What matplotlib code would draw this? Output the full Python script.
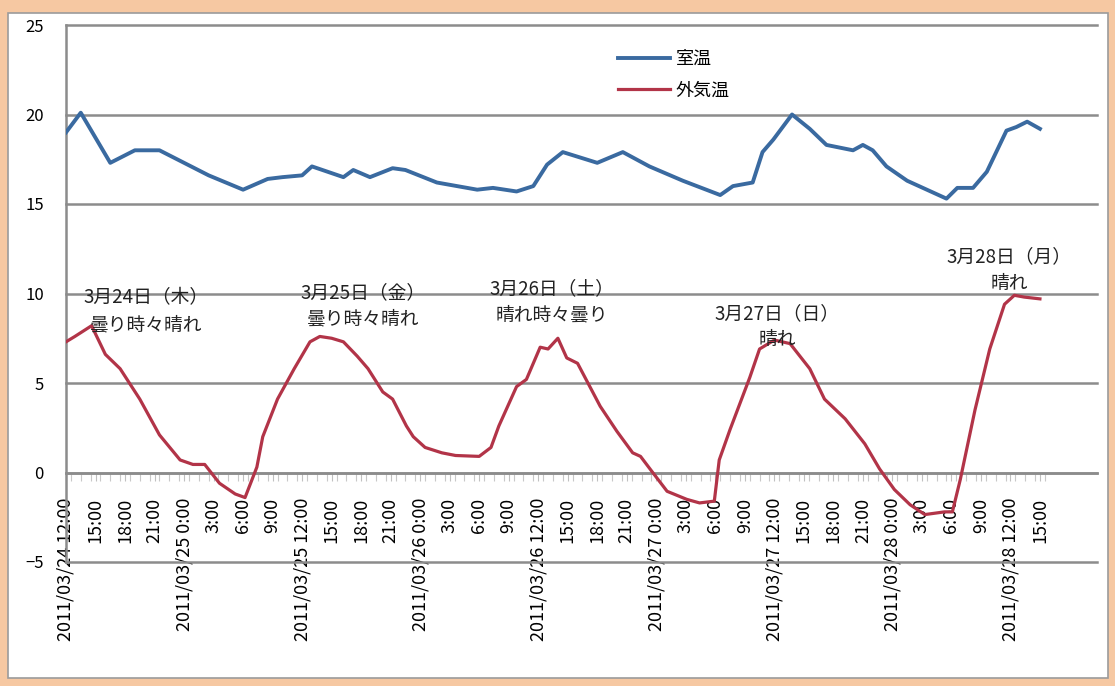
import datetime as dt
import matplotlib
matplotlib.use("Agg")
import matplotlib.pyplot as plt
from matplotlib.patches import Rectangle

plt.rcParams['font.family'] = ['Noto Sans CJK JP', 'DejaVu Sans']

# hours since 2011/03/24 12:00
room_h = [0, 1.5, 4.5, 7, 9.5, 12, 14.5, 18, 20.5, 22, 24, 25, 28.2, 29.2, 30.9, 33.2,
          34.5, 37.7, 41.8, 43.4, 45.8, 47.5, 48.9, 50.5, 54, 56.6, 59.3, 62.7, 66.5,
          67.8, 69.8, 70.8, 71.9, 73.8, 75.6, 77.3, 80, 81, 82, 83.4, 85.5, 87.5, 89.5,
          90.6, 92.2, 93.6, 95.6, 96.6, 97.7, 99]
room_t = [19.0, 20.1, 17.3, 18.0, 18.0, 17.3, 16.6, 15.8, 16.4, 16.5, 16.6, 17.1, 16.5,
          16.9, 16.5, 17.0, 16.9, 16.2, 15.8, 15.9, 15.7, 16.0, 17.2, 17.9, 17.3, 17.9,
          17.1, 16.3, 15.5, 16.0, 16.2, 17.9, 18.6, 20.0, 19.2, 18.3, 18.0, 18.3, 18.0,
          17.1, 16.3, 15.8, 15.3, 15.9, 15.9, 16.8, 19.1, 19.3, 19.6, 19.2]

out_h = [0, 0.9, 2.6, 4.0, 5.5, 7.5, 9.5, 11.6, 12.9, 14.1, 15.6, 17.2, 18.2, 19.4, 20,
         21.5, 23.2, 24.8, 25.8, 27, 28.2, 29.6, 30.7, 32.2, 33.2, 34.6, 35.3, 36.5, 38.2,
         39.6, 42, 43.2, 44, 45.8, 46.8, 48.2, 49, 50, 50.9, 52, 54.3, 56, 57.6, 58.4,
         59.5, 61.1, 63.1, 64.4, 65.9, 66.4, 67.5, 69.5, 70.5, 72, 73.6, 75.6, 77.1,
         79.2, 81.2, 82.7, 84.2, 85.8, 87.3, 89.3, 90.1, 90.9, 92.4, 93.9, 95.4, 96.4,
         97.4, 99]
out_t = [7.3, 7.6, 8.2, 6.6, 5.8, 4.1, 2.1, 0.7, 0.45, 0.45, -0.6, -1.2, -1.4, 0.3, 2.0,
         4.1, 5.8, 7.3, 7.6, 7.5, 7.3, 6.5, 5.8, 4.5, 4.1, 2.6, 2.0, 1.4, 1.1, 0.95, 0.9,
         1.4, 2.6, 4.8, 5.2, 7.0, 6.9, 7.5, 6.4, 6.1, 3.7, 2.3, 1.1, 0.9, 0.1, -1.05, -1.5,
         -1.7, -1.6, 0.7, 2.4, 5.3, 6.9, 7.4, 7.2, 5.8, 4.1, 3.0, 1.6, 0.2, -0.95, -1.8,
         -2.35, -2.2, -2.2, -0.4, 3.5, 6.9, 9.4, 9.9, 9.8, 9.7]

day_labels = ['3月24日（木）', '3月25日（金）', '3月26日（土）', '3月27日（日）', '3月28日（月）']
weather = ['曇り時々晴れ', '曇り時々晴れ', '晴れ時々曇り', '晴れ', '晴れ']
ann_pos = [(8.1, 9.0), (30.2, 9.3), (49.4, 9.55), (72.3, 8.15), (95.9, 11.3)]

start = dt.datetime(2011, 3, 24, 12)
tick_h = list(range(0, 100, 3))
tick_labels = []
for h in tick_h:
    t = start + dt.timedelta(hours=h)
    if t.hour in (0, 12):
        tick_labels.append(t.strftime('%Y/%m/%d ') + f'{t.hour}:00')
    else:
        tick_labels.append(f'{t.hour}:00')

W, H = 1115, 686
fig = plt.figure(figsize=(W / 100, H / 100), dpi=100)
fig.patch.set_facecolor('#F6C8A2')
fig.add_artist(Rectangle((8 / W, 1 - 678 / H), 1100 / W, 665 / H, transform=fig.transFigure,
                         facecolor='white', edgecolor='#9b9b9b', lw=1.2, zorder=0))

ax = fig.add_axes([66 / W, 1 - 562 / H, (1097 - 66) / W, (562 - 25) / H])
ax.set_facecolor('none')

ax.plot(room_h, room_t, color='#3a6aa0', lw=2.8, solid_joinstyle='round', label='室温', zorder=3)
ax.plot(out_h, out_t, color='#b23448', lw=2.3, solid_joinstyle='round', label='外気温', zorder=3)

ax.set_xlim(0, 104.8)
ax.set_ylim(-5, 25)
ax.set_yticks([-5, 0, 5, 10, 15, 20, 25])
ax.grid(axis='y', color='#8c8c8c', lw=1.8)
for gl in ax.get_ygridlines():
    gl.set_clip_on(False)
ax.tick_params(axis='y', length=0, pad=16, labelsize=12)

ax.spines['right'].set_visible(False)
ax.spines['top'].set_visible(False)
ax.spines['left'].set_color('#8c8c8c')
ax.spines['left'].set_linewidth(1.8)
ax.spines['bottom'].set_position(('data', 0))
ax.spines['bottom'].set_color('#8c8c8c')
ax.spines['bottom'].set_linewidth(1.8)

ax.set_xticks(tick_h)
ax.set_xticklabels(tick_labels, rotation=90, ha='center', va='top', fontsize=13)
ax.set_xticks([h + 0.5 for h in range(0, 100)], minor=True)
ax.tick_params(axis='x', which='major', length=6, color='#c0c0c0', pad=12)
ax.tick_params(axis='x', which='minor', length=6, color='#c8c8c8', width=0.8)

for (x, y), d, w in zip(ann_pos, day_labels, weather):
    ax.text(x, y, d + '\n' + w, ha='center', va='center', fontsize=13.5,
            linespacing=1.35, color='#222222', zorder=4)

ax.legend(loc='upper left', bbox_to_anchor=(618 / W, 1 - 50 / H), bbox_transform=fig.transFigure,
          frameon=False, fontsize=13, handlelength=2.9, handletextpad=0.3,
          borderpad=0, borderaxespad=0, labelspacing=0.75)

fig.savefig('out.png', dpi=100, facecolor=fig.get_facecolor())
